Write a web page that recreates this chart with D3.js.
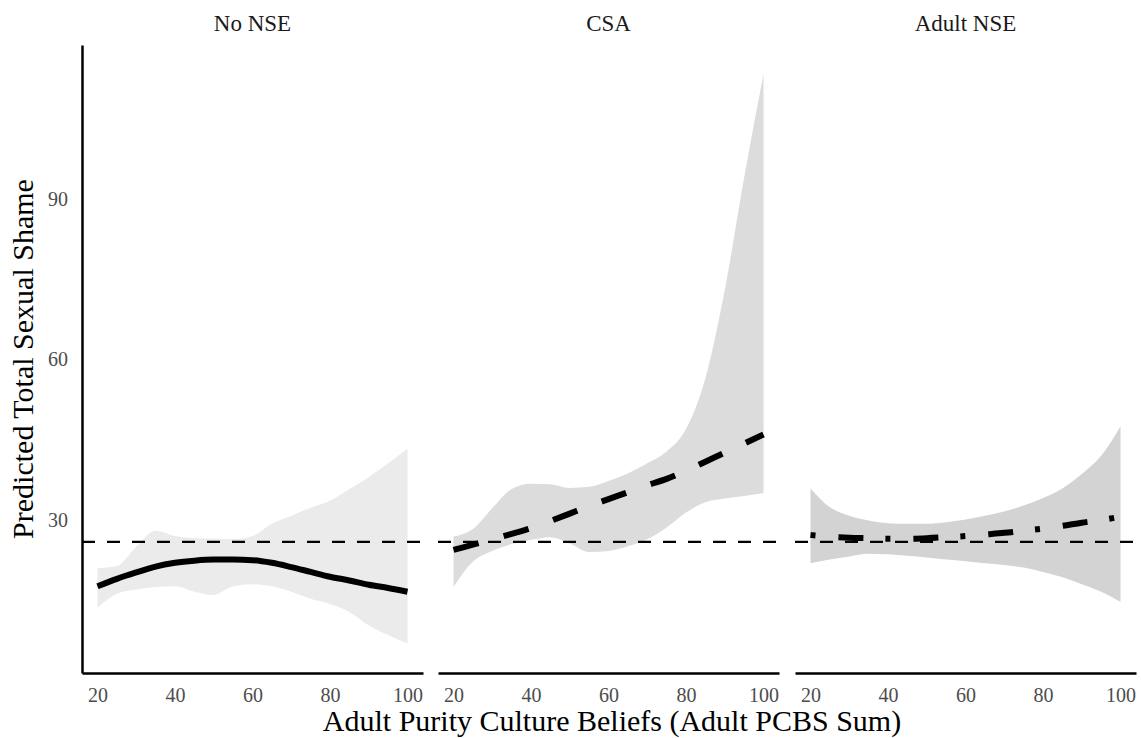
<!DOCTYPE html>
<html>
<head>
<meta charset="utf-8">
<script src="https://cdn.jsdelivr.net/npm/d3@7"></script>
<style>
  html, body { margin: 0; padding: 0; background: #fff; }
  svg { display: block; font-family: "Liberation Serif", "Times New Roman", serif; }
  .axis text { fill: #4d4d4d; font-size: 20px; font-family: "Liberation Serif", serif; }
  .axis .domain { stroke: #000; stroke-width: 2.5; }
</style>
</head>
<body>
<svg id="chart" width="1141" height="738"></svg>
<script>
// data
const panels = ['No NSE', 'CSA', 'Adult NSE'];
const xGrid = [20, 25, 30, 35, 40, 45, 50, 55, 60, 65, 70, 75, 80, 85, 90, 95, 100];

const noNseFit   = [17.6, 19.0, 20.2, 21.3, 22.0, 22.4, 22.6, 22.6, 22.5, 22.0, 21.2, 20.3, 19.4, 18.7, 17.9, 17.3, 16.6];
const noNseUpper = [21.0, 21.4, 25.0, 28.0, 27.0, 26.6, 26.5, 26.4, 27.0, 29.3, 30.8, 32.3, 33.6, 35.8, 38.0, 40.6, 43.3];
const noNseLower = [13.6, 16.2, 17.0, 17.5, 17.6, 16.6, 16.0, 17.6, 18.0, 17.6, 16.6, 15.3, 14.3, 12.8, 10.3, 8.5, 6.9];

const csaFit   = [24.4, 25.4, 26.4, 27.4, 28.5, 29.8, 31.2, 32.6, 33.9, 35.2, 36.5, 37.7, 39.2, 40.9, 42.6, 44.3, 46.0];
const csaUpper = [26.9, 28.3, 32.2, 35.8, 36.8, 36.7, 36.0, 36.2, 37.3, 38.7, 40.6, 42.8, 47.0, 56.5, 73.0, 94.0, 113.4];
const csaLower = [17.5, 22.2, 24.2, 25.5, 26.3, 26.8, 25.6, 24.0, 24.2, 25.1, 26.4, 28.6, 31.4, 33.3, 34.0, 34.5, 35.0];

const adultFit   = [27.2, 26.9, 26.7, 26.6, 26.5, 26.5, 26.6, 26.8, 27.0, 27.3, 27.6, 28.0, 28.4, 28.9, 29.5, 30.0, 30.6];
const adultUpper = [35.9, 32.4, 30.8, 29.9, 29.4, 29.3, 29.3, 29.6, 30.1, 30.8, 31.6, 32.7, 34.1, 35.9, 38.6, 42.0, 47.5];
const adultLower = [21.9, 22.6, 23.2, 23.7, 23.6, 23.3, 23.0, 22.6, 22.3, 21.9, 21.6, 21.1, 20.3, 19.3, 18.0, 16.6, 14.7];

const refLine = 25.9;
const xTicks = [20, 40, 60, 80, 100];
const yTicks = [30, 60, 90];

const fits   = [noNseFit, csaFit, adultFit];
const uppers = [noNseUpper, csaUpper, adultUpper];
const lowers = [noNseLower, csaLower, adultLower];
const bandColors = ['#ebebeb', '#dcdcdc', '#d3d3d3'];
const dashes = [null, '26,26', '5,23,25,22'];

const svg = d3.select('#chart');
const panelLeft = [82, 438, 795],
    panelW = 341,
    plotTop = 45,
    plotBottom = 673;

const x = d3.scaleLinear().domain([16, 104]).range([0, panelW]);
const y = d3.scaleLinear().domain([1.4, 118.8]).range([plotBottom, plotTop]);

const area = d3.area()
    .x(d => x(d.x))
    .y0(d => y(d.lo))
    .y1(d => y(d.hi))
    .curve(d3.curveMonotoneX);

const line = d3.line()
    .x(d => x(d.x))
    .y(d => y(d.v))
    .curve(d3.curveMonotoneX);

panels.forEach(function(name, i) {
    var g = svg.append('g')
        .attr('transform', 'translate(' + panelLeft[i] + ',0)');

    var rows = xGrid.map(function(xv, j) {
        return {x: xv, v: fits[i][j], lo: lowers[i][j], hi: uppers[i][j]};
    });

    g.append('path')
        .datum(rows)
        .attr('d', area)
        .attr('fill', bandColors[i]);

    g.append('path')
        .datum(rows)
        .attr('d', line)
        .attr('fill', 'none')
        .attr('stroke', '#000')
        .attr('stroke-width', 6)
        .attr('stroke-dasharray', dashes[i]);

    // reference line
    g.append('line')
        .attr('x1', 0)
        .attr('x2', panelW)
        .attr('y1', y(refLine))
        .attr('y2', y(refLine))
        .attr('stroke', '#000')
        .attr('stroke-width', 2.2)
        .attr('stroke-dasharray', '13,12');

    g.append('g')
        .attr('class', 'axis')
        .attr('transform', 'translate(0,' + plotBottom + ')')
        .call(d3.axisBottom(x).tickValues(xTicks).tickSize(0).tickPadding(15));

    // strip label
    g.append('text')
        .attr('x', panelW / 2)
        .attr('y', 31)
        .attr('text-anchor', 'middle')
        .attr('font-size', 23)
        .attr('fill', '#1a1a1a')
        .text(name);
});

svg.append('g')
    .attr('class', 'axis')
    .attr('transform', 'translate(' + panelLeft[0] + ',0)')
    .call(d3.axisLeft(y).tickValues(yTicks).tickSize(0).tickPadding(14).tickSizeOuter(0));

svg.append('text')
    .attr('transform', 'translate(33,' + (plotTop + plotBottom) / 2 + ') rotate(-90)')
    .attr('text-anchor', 'middle')
    .attr('font-size', 30)
    .attr('fill', '#000')
    .text('Predicted Total Sexual Shame');

svg.append('text')
    .attr('x', 612)
    .attr('y', 731)
    .attr('text-anchor', 'middle')
    .attr('font-size', 30)
    .attr('fill', '#000')
    .text('Adult Purity Culture Beliefs (Adult PCBS Sum)');
</script>
</body>
</html>
